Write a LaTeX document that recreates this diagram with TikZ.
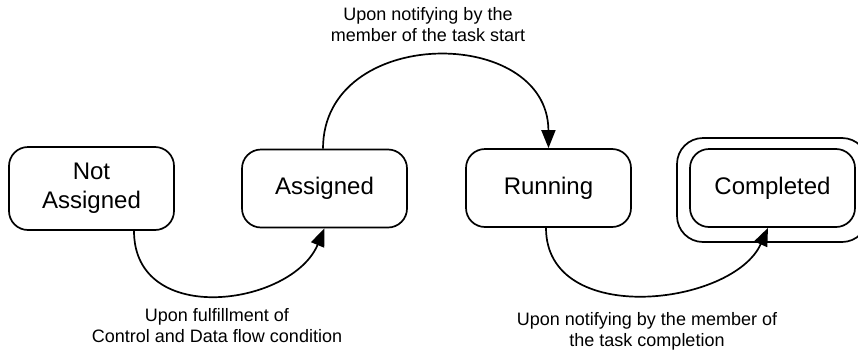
\documentclass[tikz,border=0pt]{standalone}
\usepackage{fontspec}
\setmainfont{Liberation Sans}
\usetikzlibrary{arrows.meta}
\begin{document}
\begin{tikzpicture}[x=1pt,y=-1pt,
  state/.style={draw,line width=1.7pt,rounded corners=19pt,minimum width=165pt,
    minimum height=78pt,align=center,inner sep=0pt,
    font=\fontsize{24pt}{29pt}\selectfont},
  trans/.style={line width=1.7pt,-{Triangle[length=18pt,width=14pt]}},
  note/.style={align=center,font=\fontsize{18pt}{21pt}\selectfont}]
\clip (0,0) rectangle (858,351);
\fill[white] (0,0) rectangle (858,351);
% states
\node[state,minimum height=83pt] (na) at (91.5,188.5) {Not\\Assigned};
\node[state] (as) at (324.5,188.5) {Assigned};
\node[state] (ru) at (548.5,188) {Running};
\node[state] (co) at (772.5,188) {Completed};
% final-state outer frame
\draw[line width=1.7pt,rounded corners=26pt] (677,138) rectangle (868,242);
% transitions
\draw[trans] (na.south) ++(42.5,0) coordinate (na1)
  (na1) .. controls (134,328) and (292,306) .. (as.south);
\draw[trans] (as.north) ++(-1.5,0) coordinate (as1)
  (as1) .. controls (323,25) and (548,25) .. (ru.north);
\draw[trans] (ru.south) ++(-2.5,0) coordinate (ru1)
  (ru1) .. controls (546,328) and (733,306) .. ([xshift=-4.5pt]co.south);
% transition labels
\node[note] (l1) at (217,326) {Upon fulfillment of\\Control and Data flow condition};
\node[note] (l2) at (428,25) {Upon notifying by the\\member of the task start};
\node[note] (l3) at (647,331) {Upon notifying by the member of\\the task completion};
\end{tikzpicture}
\end{document}
